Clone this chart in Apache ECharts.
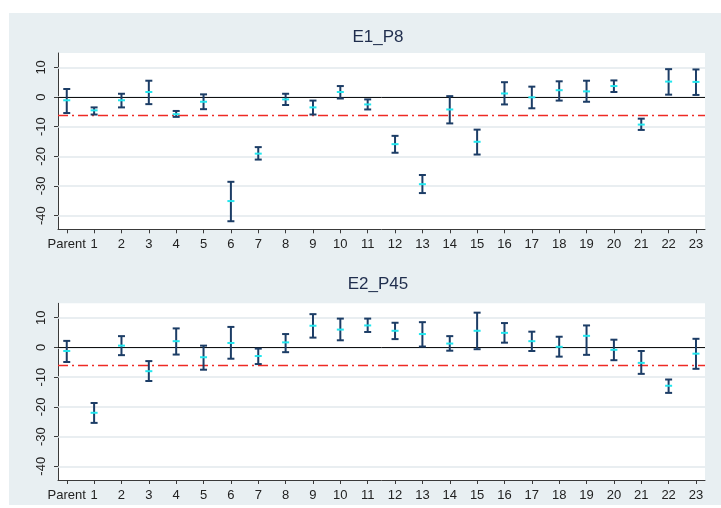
<!DOCTYPE html>
<html>
<head>
<meta charset="utf-8">
<script src="https://cdn.jsdelivr.net/npm/echarts@6/dist/echarts.min.js"></script>
<style>html,body{margin:0;padding:0;background:#fff}#c{width:721px;height:508px}</style>
</head>
<body>
<div id="c"></div>
<script>
const categories = ['Parent','1','2','3','4','5','6','7','8','9','10','11','12','13','14','15','16','17','18','19','20','21','22','23'];

const titles = ['E1_P8', 'E2_P45'];

const e1Mean = [-1.1,-4.5,-1.1,1.7,-5.8,-1.6,-35.1,-19.1,-0.8,-3.5,1.7,-2.5,-15.9,-29.4,-4.2,-15.1,1.2,-0.1,2.3,1.9,3.7,-9.3,5.2,5.1];
const e1Lo   = [-5.4,-5.9,-3.5,-2.4,-6.7,-4.1,-41.9,-21.1,-2.7,-5.9,-0.5,-4.2,-18.8,-32.4,-8.9,-19.4,-2.5,-3.8,-1.2,-1.6,1.7,-11.1,0.8,0.7];
const e1Hi   = [2.7,-3.5,1.1,5.5,-4.7,0.9,-28.6,-16.9,1.1,-1.2,3.7,-0.8,-13.1,-26.3,0.3,-11.0,5.0,3.5,5.3,5.5,5.6,-7.3,9.4,9.3];

const e2Mean = [-1.2,-22.0,0.6,-8.0,2.1,-3.3,1.5,-2.9,1.7,7.3,6.0,7.4,5.6,4.5,1.3,5.6,4.9,2.1,0.2,3.9,-0.8,-5.2,-12.9,-2.1];
const e2Lo   = [-4.9,-25.4,-2.6,-11.3,-2.4,-7.5,-3.8,-5.6,-1.6,3.3,2.4,5.2,2.8,0.3,-1.1,-0.6,1.6,-1.2,-3.1,-2.5,-4.3,-8.9,-15.3,-7.2];
const e2Hi   = [2.2,-18.7,3.8,-4.6,6.4,0.6,6.9,-0.4,4.5,11.2,9.7,9.7,8.3,8.5,3.8,11.7,8.2,5.3,3.6,7.4,2.6,-1.2,-10.8,2.9];

const yTicks = [-40,-30,-20,-10,0,10];
const zeroLine = 0;
const refLine = -6;

const FONT = '"Liberation Sans", Arial, sans-serif';
const NAVY = '#1c3d66';
const CYAN = '#22e6ee';
const AX = '#3a3a3a';

const xTicks = categories.map((_, i) => i);

const chart = echarts.init(document.getElementById('c'), null, {renderer: 'canvas'});

const grids = [
  {left: 58, top: 53, width: 647, height: 176.3},
  {left: 58, top: 303.3, width: 647, height: 176.7}
];

function makeX(gi) {
  return {
    type: 'value', gridIndex: gi, min: -0.32, max: 23.33,
    axisLine: {show: true, onZero: false, lineStyle: {color: AX, width: 1}},
    axisTick: {show: true, length: 4, customValues: xTicks, lineStyle: {color: AX}},
    axisLabel: {customValues: xTicks, formatter: v => categories[Math.round(v)], fontFamily: FONT, fontSize: 13, color: '#222', margin: 9},
    splitLine: {show: false}
  };
}
function makeY(gi) {
  return {
    type: 'value', gridIndex: gi, min: -44.62, max: 14.85,
    axisLine: {show: true, onZero: false, lineStyle: {color: AX, width: 1}},
    axisTick: {show: true, length: 4, customValues: yTicks, lineStyle: {color: AX}},
    axisLabel: {customValues: yTicks, rotate: 90, fontFamily: FONT, fontSize: 13, color: '#222', margin: 10},
    splitLine: {show: false}
  };
}

function errSeries(gi, mean, lo, hi) {
  return {
    type: 'custom', xAxisIndex: gi, yAxisIndex: gi, z: 5,
    data: mean.map((m, i) => [i, lo[i], hi[i], m]),
    encode: {x: 0, y: [1, 2]},
    renderItem: function (params, api) {
      const x = api.value(0);
      const pHi = api.coord([x, api.value(2)]);
      const pLo = api.coord([x, api.value(1)]);
      const pM = api.coord([x, api.value(3)]);
      const hw = 3.5;
      const st = {stroke: NAVY, lineWidth: 2};
      return {
        type: 'group',
        children: [
          {type: 'line', shape: {x1: pHi[0], y1: pHi[1], x2: pLo[0], y2: pLo[1]}, style: st},
          {type: 'line', shape: {x1: pHi[0]-hw, y1: pHi[1], x2: pHi[0]+hw, y2: pHi[1]}, style: st},
          {type: 'line', shape: {x1: pLo[0]-hw, y1: pLo[1], x2: pLo[0]+hw, y2: pLo[1]}, style: st},
          {type: 'line', shape: {x1: pM[0]-hw, y1: pM[1], x2: pM[0]+hw, y2: pM[1]}, style: {stroke: CYAN, lineWidth: 2}}
        ]
      };
    }
  };
}

function lineSeries(gi, values, style, z) {
  return {
    type: 'line', xAxisIndex: gi, yAxisIndex: gi, data: [], z: z,
    markLine: {silent: true, symbol: 'none', label: {show: false}, animation: false,
      lineStyle: style, emphasis: {disabled: true},
      data: values.map(v => ({yAxis: v}))}
  };
}

function refSeries(gi) {
  return [
    lineSeries(gi, yTicks, {color: '#e2e9ed', width: 1.5, type: 'solid'}, 1),
    lineSeries(gi, [zeroLine], {color: '#111111', width: 1, type: 'solid'}, 2),
    lineSeries(gi, [refLine], {color: '#ee2a24', width: 1.3, type: [10, 4, 2, 4]}, 3)
  ];
}

chart.setOption({
  animation: false,
  backgroundColor: '#ffffff',
  graphic: [
    {type: 'rect', z: -10, silent: true, shape: {x: 9, y: 13, width: 712, height: 492}, style: {fill: '#e8eff2'}}
  ],
  title: [
    {text: titles[0], left: 373, top: 24, textAlign: 'center', textStyle: {fontFamily: FONT, fontSize: 17, fontWeight: 'normal', color: '#1f2d4d'}},
    {text: titles[1], left: 373, top: 271, textAlign: 'center', textStyle: {fontFamily: FONT, fontSize: 17, fontWeight: 'normal', color: '#1f2d4d'}}
  ],
  grid: grids.map(g => Object.assign({show: true, backgroundColor: '#ffffff', borderWidth: 0}, g)),
  xAxis: [makeX(0), makeX(1)],
  yAxis: [makeY(0), makeY(1)],
  series: [].concat(refSeries(0), refSeries(1), [
    errSeries(0, e1Mean, e1Lo, e1Hi),
    errSeries(1, e2Mean, e2Lo, e2Hi)
  ])
});
</script>
</body>
</html>
